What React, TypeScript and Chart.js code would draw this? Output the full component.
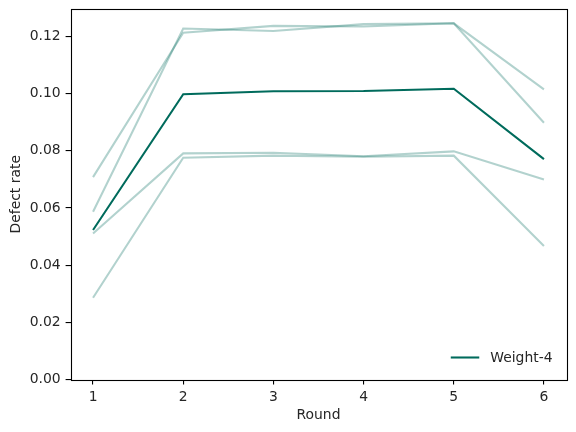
import React, { useEffect, useRef } from "react";
import { Chart, registerables } from "chart.js";

Chart.register(...registerables);

const rounds = [1, 2, 3, 4, 5, 6];
const weight4 = [0.0523, 0.0998, 0.1008, 0.1009, 0.1017, 0.0771];
const runA = [0.0708, 0.1213, 0.1237, 0.1235, 0.1246, 0.1015];
const runB = [0.0587, 0.1228, 0.1219, 0.1243, 0.1246, 0.0898];
const runC = [0.0511, 0.0791, 0.0793, 0.0781, 0.0798, 0.0700];
const runD = [0.0286, 0.0776, 0.0783, 0.0779, 0.0783, 0.0467];
const yTicks = [0, 0.02, 0.04, 0.06, 0.08, 0.1, 0.12];
const legendLabel = "Weight-4";

const DARK = "#006b5c";
const LIGHT = "rgba(0,107,92,0.3)";
const FONT = "'DejaVu Sans', sans-serif";

const toPts = (vals: number[]) => rounds.map((r, i) => ({ x: r, y: vals[i] }));

export default function App() {
  const ref = useRef<HTMLCanvasElement>(null);
  useEffect(() => {
    document.body.style.margin = "0";
    const ctx = ref.current!;
    const boxPlugin = {
      id: "boxAndLegend",
      afterDraw(chart: any) {
        const { ctx: c, chartArea: a } = chart;
        c.save();
        c.strokeStyle = "#000";
        c.lineWidth = 1.1;
        c.strokeRect(Math.round(a.left) + 0.5, Math.round(a.top) + 0.5, Math.round(a.right - a.left), Math.round(a.bottom - a.top));
        c.font = `13.9px ${FONT}`;
        const tw = c.measureText(legendLabel).width;
        const textEnd = a.right - 14;
        const textStart = textEnd - tw;
        const ly = a.bottom - 22;
        c.strokeStyle = DARK;
        c.lineWidth = 2.08;
        c.beginPath();
        c.moveTo(textStart - 39.5, ly);
        c.lineTo(textStart - 11, ly);
        c.stroke();
        c.fillStyle = "#262626";
        c.textBaseline = "middle";
        c.textAlign = "left";
        c.fillText(legendLabel, textStart, ly + 1);
        c.restore();
      },
    };
    const light = (vals: number[]) => ({
      data: toPts(vals),
      borderColor: LIGHT,
      borderWidth: 2.08,
      pointRadius: 0,
      tension: 0,
      order: 2,
    });
    const chart = new Chart(ctx, {
      type: "line",
      data: {
        datasets: [
          { label: legendLabel, data: toPts(weight4), borderColor: DARK, borderWidth: 2.08, pointRadius: 0, tension: 0, order: 1 },
          light(runA),
          light(runB),
          light(runC),
          light(runD),
        ],
      },
      options: {
        animation: false,
        responsive: false,
        layout: { padding: { left: 0, right: 9.5, top: 9, bottom: 0 } },
        plugins: { legend: { display: false }, tooltip: { enabled: false } },
        scales: {
          x: {
            type: "linear",
            min: 0.75,
            max: 6.25,
            afterBuildTicks: (s: any) => {
              s.ticks = rounds.map((v) => ({ value: v }));
            },
            afterFit: (s: any) => {
              s.height = 52.5;
              s.paddingLeft = 0;
              s.paddingRight = 0;
            },
            border: { display: false },
            grid: { drawOnChartArea: false, drawTicks: true, tickLength: 4.9, color: "#000", lineWidth: 1.1 },
            ticks: { color: "#262626", padding: 4.9, font: { family: FONT, size: 13.9 }, maxRotation: 0, callback: (v: any) => String(v) },
            title: { display: true, text: "Round", color: "#262626", font: { family: FONT, size: 13.9 }, padding: { top: 0, bottom: 8 } },
          },
          y: {
            type: "linear",
            min: 0,
            max: 0.1296,
            afterBuildTicks: (s: any) => {
              s.ticks = yTicks.map((v) => ({ value: v }));
            },
            afterFit: (s: any) => {
              s.width = 70.5;
              s.paddingTop = 0;
              s.paddingBottom = 0;
            },
            border: { display: false },
            grid: { drawOnChartArea: false, drawTicks: true, tickLength: 4.9, color: "#000", lineWidth: 1.1 },
            ticks: { color: "#262626", padding: 4.9, font: { family: FONT, size: 13.9 }, callback: (v: any) => Number(v).toFixed(2) },
            title: { display: true, text: "Defect rate", color: "#262626", font: { family: FONT, size: 13.9 }, padding: { top: 8, bottom: 8 } },
          },
        },
      },
      plugins: [boxPlugin],
    } as any);
    return () => chart.destroy();
  }, []);
  return (
    <div style={{ width: 576, height: 432 }}>
      <canvas ref={ref} width={576} height={432} style={{ display: "block" }} />
    </div>
  );
}
